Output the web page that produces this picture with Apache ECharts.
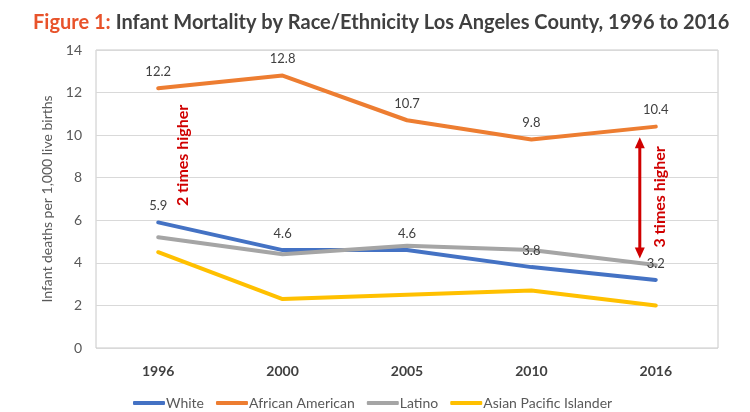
<!DOCTYPE html>
<html>
<head>
<meta charset="utf-8">
<script src="https://cdn.jsdelivr.net/npm/echarts@6/dist/echarts.min.js"></script>
<style>
    html, body { margin: 0; padding: 0; background: #fff; }
    #myChart { width: 750px; height: 412px; }
</style>
</head>
<body>
<div id="myChart"></div>
<script>
// 年份
var years = ['1996', '2000', '2005', '2010', '2016'];
// 各族裔婴儿死亡率 (每千名活产)
var white = [5.9, 4.6, 4.6, 3.8, 3.2];
var africanAmerican = [12.2, 12.8, 10.7, 9.8, 10.4];
var latino = [5.2, 4.4, 4.8, 4.6, 3.9];
var asianPacific = [4.5, 2.3, 2.5, 2.7, 2.0];
var yTicks = [0, 2, 4, 6, 8, 10, 12, 14];
var legend = ['White', 'African American', 'Latino', 'Asian Pacific Islander'];

var font = 'Lato, "Open Sans", sans-serif';

/**
 * 折线配置
 */
var lineSeries = function (name, data, color, showLabel) {
    return {
        name: name,
        type: 'line',
        data: data,
        symbol: 'circle',
        symbolSize: 0.1,
        lineStyle: { width: 4, color: color, cap: 'round' },
        itemStyle: { color: color },
        label: {
            show: showLabel,
            position: 'top',
            distance: 10,
            color: '#404040',
            fontSize: 13,
            fontFamily: font
        },
        z: 2
    };
};

var myChart = echarts.init(document.getElementById('myChart')),
    option = {
        animation: false,
        title: {
            text: '{a|Figure 1:} {b|Infant Mortality by Race/Ethnicity Los Angeles County, 1996 to 2016}',
            left: 28,
            top: 8,
            textStyle: {
                rich: {
                    a: { color: '#E8532B', fontSize: 20, fontWeight: 'bold', fontFamily: font },
                    b: { color: '#404040', fontSize: 20, fontFamily: font }
                }
            }
        },
        legend: {
            data: legend,
            left: 128,
            top: 391,
            icon: 'roundRect',
            itemWidth: 32,
            itemHeight: 4,
            itemGap: 12,
            textStyle: { color: '#595959', fontSize: 14, fontFamily: font, padding: [0, 0, 0, -4] }
        },
        grid: {
            left: 96,
            right: 32,
            top: 50,
            bottom: 64,
            show: true,
            borderColor: '#c8c8c8',
            borderWidth: 1
        },
        xAxis: {
            type: 'category',
            data: years,
            boundaryGap: true,
            axisLine: { show: false },
            axisTick: { show: false },
            axisLabel: { color: '#404040', fontSize: 14, fontWeight: 'bold', fontFamily: font, margin: 16 }
        },
        yAxis: {
            type: 'value',
            min: yTicks[0],
            max: yTicks[yTicks.length - 1],
            interval: 2,
            name: 'Infant deaths per 1,000 live births',
            nameLocation: 'middle',
            nameGap: 34,
            nameTextStyle: { color: '#595959', fontSize: 14, fontFamily: font },
            axisLine: { show: false },
            axisTick: { show: false },
            axisLabel: { color: '#595959', fontSize: 14, fontFamily: font, margin: 14 },
            splitLine: { lineStyle: { color: '#d9d9d9', width: 1 } }
        },
        series: [
            lineSeries(legend[0], white, '#4472C4', true),
            lineSeries(legend[1], africanAmerican, '#ED7D31', true),
            lineSeries(legend[2], latino, '#A5A5A5', false),
            lineSeries(legend[3], asianPacific, '#FFC000', false)
        ]
    };
myChart.setOption(option);

/**
 * 标注：文字和双向箭头
 */
var px = function (cat, val) {
    return myChart.convertToPixel({ gridIndex: 0 }, [cat, val]);
};
var red = '#D00000';
var p1 = px('1996', 9.05),
    p2 = px('2016', 7.1),
    arrowTop = px('2016', 9.9),
    arrowBottom = px('2016', 4.2),
    ax = arrowTop[0] - 16;

myChart.setOption({
    graphic: [
        {
            type: 'text',
            x: p1[0] + 25,
            y: p1[1],
            rotation: Math.PI / 2,
            style: {
                text: '2 times higher',
                fill: red,
                font: 'bold 16px ' + font,
                align: 'center',
                verticalAlign: 'middle'
            }
        },
        {
            type: 'text',
            x: p2[0] + 4,
            y: p2[1],
            rotation: Math.PI / 2,
            style: {
                text: '3 times higher',
                fill: red,
                font: 'bold 16px ' + font,
                align: 'center',
                verticalAlign: 'middle'
            }
        },
        {
            type: 'line',
            shape: { x1: ax, y1: arrowTop[1] + 8, x2: ax, y2: arrowBottom[1] - 8 },
            style: { stroke: red, lineWidth: 3 }
        },
        {
            type: 'polygon',
            shape: { points: [[ax, arrowTop[1]], [ax - 5, arrowTop[1] + 11], [ax + 5, arrowTop[1] + 11]] },
            style: { fill: red }
        },
        {
            type: 'polygon',
            shape: { points: [[ax, arrowBottom[1]], [ax - 5, arrowBottom[1] - 11], [ax + 5, arrowBottom[1] - 11]] },
            style: { fill: red }
        }
    ]
});
</script>
</body>
</html>
